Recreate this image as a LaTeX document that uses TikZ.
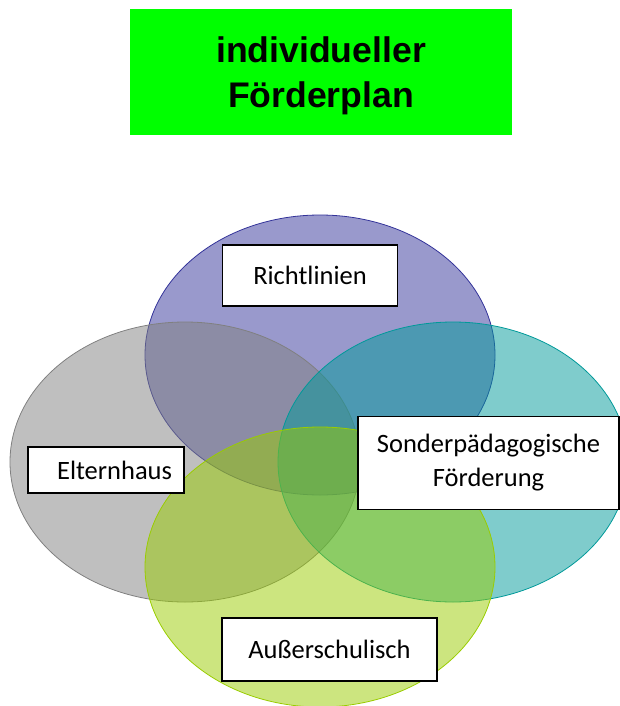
\documentclass[tikz,border=0pt]{standalone}
\usepackage{fontspec}
\setmainfont{Carlito}
\newfontfamily\titlefont{Liberation Sans}
\usetikzlibrary{shapes.geometric}
\definecolor{titelgruen}{RGB}{0,255,0}
\definecolor{kblau}{RGB}{51,51,153}
\definecolor{kgrau}{RGB}{128,128,128}
\definecolor{ktuerkis}{RGB}{0,153,153}
\definecolor{kgruen}{RGB}{153,204,0}
\begin{document}
\begin{tikzpicture}[x=1pt,y=-1pt,
  labelbox/.style={draw=black,line width=1.8pt,fill=white,inner sep=0pt,
    font=\fontsize{26.5}{34}\selectfont}]
  \useasboundingbox (0,0) rectangle (620,706);

  % title box
  \fill[titelgruen] (130,9) rectangle (512,135);
  \node[align=center,inner sep=0pt,
    font=\titlefont\bfseries\fontsize{35.6}{45}\selectfont] (T) at (321,76) {individueller\\Förderplan};

  \begin{scope}[every node/.style={ellipse,minimum width=350pt,minimum height=280pt,
      inner sep=0pt,fill opacity=0.5,line width=0.8pt}]
    \node[fill=kblau,draw=kblau] (KR) at (320,355) {};
    \node[fill=kgrau,draw=kgrau] (KE) at (185,462) {};
    \node[fill=ktuerkis,draw=ktuerkis] (KS) at (453,462) {};
    \node[fill=kgruen,draw=kgruen] (KA) at (320,567) {};
  \end{scope}

  \node[labelbox,minimum width=175pt,minimum height=61pt] (R) at (310,275.5) {Richtlinien};
  \node[labelbox,minimum width=156pt,minimum height=46pt,text width=132pt,align=right] (E) at (106,470) {Elternhaus};
  \node[labelbox,minimum width=261pt,minimum height=93pt,align=center] (S) at (488.5,463) {Sonderpädagogische\\Förderung};
  \node[labelbox,minimum width=215pt,minimum height=63pt] (A) at (329.5,649.5) {Außerschulisch};
\end{tikzpicture}
\end{document}
